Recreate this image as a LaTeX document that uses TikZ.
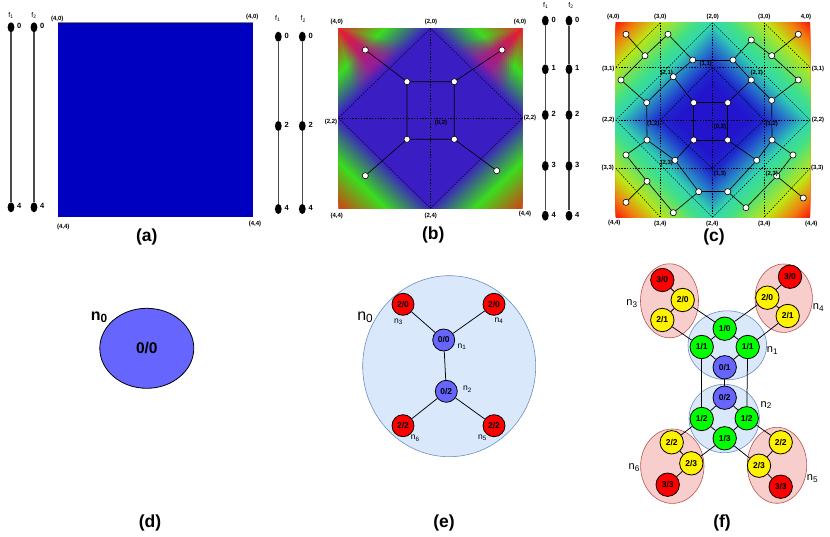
\documentclass[tikz,border=0pt]{standalone}
\usepackage{graphicx}
\usepackage{fontspec}
\setmainfont{Liberation Sans}
\usetikzlibrary{shapes.geometric}
\definecolor{regblue}{HTML}{DAE8FC}
\definecolor{regblueline}{HTML}{6C8EBF}
\definecolor{regred}{HTML}{F8CECC}
\definecolor{regredline}{HTML}{B85450}
\definecolor{nblue}{HTML}{6666FF}
\definecolor{barcol}{HTML}{4A4A4A}
\tikzset{
  coordlabel/.style={font=\fontsize{6}{7}\selectfont\bfseries,inner sep=0pt},
  caption/.style={font=\fontsize{17.5}{20}\selectfont\bfseries,inner sep=0pt},
  barend/.style={ellipse,fill=black,draw=none,minimum width=6.8pt,minimum height=10pt,inner sep=0pt},
  barline/.style={draw=barcol,line width=1.1pt},
  barnum/.style={font=\fontsize{7.5}{8}\selectfont\bfseries,inner sep=0pt},
  barname/.style={font=\fontsize{7}{8}\selectfont,inner sep=0pt},
  cpt/.style={circle,fill=white,draw=black,line width=.6pt,minimum size=6.2pt,inner sep=0pt},
  cedge/.style={draw=black,line width=.65pt},
  gridline/.style={draw=black,line width=.55pt,dash pattern=on 1.4pt off 1.4pt},
  gn/.style={circle,draw=black,line width=.8pt,minimum size=#1,inner sep=0pt,font=\fontsize{8.5}{10}\selectfont\bfseries},
  gn/.default=22pt,
  gedge/.style={draw=black,line width=.75pt},
  nsmall/.style={font=\fontsize{8.5}{10}\selectfont,inner sep=0pt},
  nmid/.style={font=\fontsize{11}{12}\selectfont,inner sep=0pt},
  nbig/.style={font=\fontsize{16}{18}\selectfont,inner sep=0pt},
  nbigb/.style={font=\fontsize{16}{18}\selectfont\bfseries,inner sep=0pt},
  regb/.style={ellipse,fill=regblue,draw=regblueline,line width=.6pt,inner sep=0pt},
  regr/.style={ellipse,fill=regred,draw=regredline,line width=.6pt,inner sep=0pt},
}
\newcounter{lb}
\newcommand\clab[3]{\stepcounter{lb}\node[coordlabel] (lab\thelb) at (#1,#2) {#3};}
\newcommand\nlab[4]{\stepcounter{lb}\node[#1] (nl\thelb) at (#2,#3) {n\raisebox{-.28ex}{\scalebox{.74}{#4}}};}
% name, x, list y/label
\newcommand\fbar[3]{%
  \foreach \yy/\ll [count=\k,remember=\k as \p (initially 0)] in {#3}{
    \node[barend] (#1\k) at (#2,\yy) {};
    \node[barnum] (#1t\k) at (#2+8.3,\yy-1) {\ll};
    \ifnum\k>1 \draw[barline] (#1\p) -- (#1\k); \fi
  }}
% cx cy rx ry steps stops (outer to inner)
\newcommand\dfield[6]{%
  \foreach \ra/\ga/\ba/\ta/\rb/\gb/\bb/\tb in {#6}{
    \foreach \i in {1,...,#5}{
      \pgfmathsetmacro\ff{(\i-1)/#5}
      \pgfmathsetmacro\tt{2*(\ta+(\tb-\ta)*\ff)}
      \pgfmathsetmacro\R{(\ra+(\rb-\ra)*\ff)/255}
      \pgfmathsetmacro\G{(\ga+(\gb-\ga)*\ff)/255}
      \pgfmathsetmacro\B{(\ba+(\bb-\ba)*\ff)/255}
      \definecolor{cc}{rgb}{\R,\G,\B}
      \fill[cc] (#1-\tt*#3,#2) -- (#1,#2-\tt*#4) -- (#1+\tt*#3,#2) -- (#1,#2+\tt*#4) -- cycle;
    }}}
\begin{document}
\begin{tikzpicture}[x=1pt,y=-1pt]
\useasboundingbox (0,0) rectangle (830,537);

%% ---------- (a)
\fill[fill=black!50] (58.3,22.2) rectangle (252.7,217.2);
\fill[fill={rgb,255:red,0;green,0;blue,192}] (58.3,23) rectangle (252.7,216.7);
\fbar{al}{11}{27.3/0,207.3/4}
\fbar{bl}{34}{27.3/0,207.3/4}
\node[barname] (f1a) at (11,15.7) {f\textsubscript{1}};
\node[barname] (f2a) at (34,15.7) {f\textsubscript{2}};
\clab{57.3}{18.7}{(4,0)}
\clab{252.3}{16.7}{(4,0)}
\clab{63.3}{226.7}{(4,4)}
\clab{255}{224.3}{(4,4)}
\node[caption] (capa) at (146.7,237) {(a)};

\fbar{cl}{278.3}{36.7/0,126/2,209/4}
\fbar{dl}{302.3}{36.7/0,126/2,209/4}
\node[barname] (f1b) at (277.7,18) {f\textsubscript{1}};
\node[barname] (f2b) at (303.3,19) {f\textsubscript{2}};

%% ---------- (b)
\fill[fill={rgb,255:red,240;green,190;blue,175}] (337.8,28) rectangle (523.2,208.6);
\begin{scope}
\clip (338.3,28.3) rectangle (522.7,208.3);
\dfield{430.5}{118.3}{92.2}{90}{14}{205/70/20/1/60/220/30/.75,60/220/30/.75/58/30/195/.5,58/30/195/.5/58/30/195/.49}
\foreach \i in {0,...,45}{\foreach \j in {0,...,44}{
  \pgfmathsetmacro\ca{(\i+.5)/46}
  \pgfmathsetmacro\cb{(\j+.5)/45}
  \pgfmathsetmacro\ct{\ca+\cb}
  \ifdim\ct pt<1pt
    \pgfmathsetmacro\ws{max(0,min(1,(abs(\ca-\cb)/\ct-.12)/.5))}
    \pgfmathsetmacro\ea{min(1,\ct/.52)}
    \pgfmathsetmacro\eb{max(0,(\ct-.52)/.48)}
    \pgfmathsetmacro\da{min(1,\ct/.8)}
    \pgfmathsetmacro\db{max(0,(\ct-.8)/.2)}
    \pgfmathsetmacro\R{((1-\ws)*(235-85*\da-92*\db)+\ws*(235-175*\ea-2*\eb))/255}
    \pgfmathsetmacro\G{((1-\ws)*(30)+\ws*(30+190*\ea-190*\eb))/255}
    \pgfmathsetmacro\B{((1-\ws)*(40+110*\da+45*\db)+\ws*(40-10*\ea+165*\eb))/255}
    \definecolor{cc}{rgb}{\R,\G,\B}
    \pgfmathsetmacro\xa{338.3+\i*2}
    \pgfmathsetmacro\xb{522.7-\i*2}
    \pgfmathsetmacro\yc{28.3+\j*2}
    \fill[cc] (\xa,\yc) rectangle ++(2.3,2.3);
    \fill[cc] (\xb,\yc) rectangle ++(-2.3,2.3);
  \fi
}}
\end{scope}
\coordinate (bt) at (430.5,28.3);
\coordinate (bb) at (430.5,208.3);
\coordinate (bl) at (338.3,118);
\coordinate (br) at (522.7,118);
\draw[gridline] (bt) -- (bb);
\draw[gridline] (bl) -- (br);
\draw[gridline] (bt) -- (bl) -- (bb) -- (br) -- cycle;
\node[cpt] (b1) at (365.3,50) {};
\node[cpt] (b2) at (502,50) {};
\node[cpt] (b3) at (407,81.7) {};
\node[cpt] (b4) at (454.3,81.7) {};
\node[cpt] (b5) at (407,139.3) {};
\node[cpt] (b6) at (454.3,139.3) {};
\node[cpt] (b7) at (365.3,175.7) {};
\node[cpt] (b8) at (496.7,170.7) {};
\draw[cedge] (b1)--(b3) (b2)--(b4) (b3)--(b4) (b3)--(b5) (b4)--(b6) (b5)--(b6) (b5)--(b7) (b6)--(b8);
\clab{336.7}{22}{(4,0)}
\clab{431}{22}{(2,0)}
\clab{520}{22}{(4,0)}
\clab{331}{121.7}{(2,2)}
\clab{530}{117.7}{(2,2)}
\clab{441}{122.7}{(0,2)}
\clab{336.7}{216}{(4,4)}
\clab{430.7}{216}{(2,4)}
\clab{525}{213.7}{(4,4)}
\node[caption] (capb) at (433.3,235) {(b)};

\fbar{el}{545.3}{20.7/0,69.3/1,115/2,166/3,215.7/4}
\fbar{fl}{569}{20.7/0,69.3/1,115/2,166/3,215.7/4}
\node[barname] (f1c) at (545.7,5) {f\textsubscript{1}};
\node[barname] (f2c) at (571,5.7) {f\textsubscript{2}};

%% ---------- (c)
\fill[fill={rgb,255:red,250;green,200;blue,170}] (615.2,22.5) rectangle (810.2,217.5);
\begin{scope}
\clip (615.7,22.7) rectangle (810,217.3);
\dfield{712.8}{120}{97.2}{97.3}{10}{250/30/10/1/240/130/15/.9,240/130/15/.9/190/230/20/.78,190/230/20/.78/70/225/130/.6,70/225/130/.6/50/215/175/.5,50/215/175/.5/40/130/200/.4,40/130/200/.4/30/40/205/.28,30/40/205/.28/35/20/205/.18,35/20/205/.18/35/20/205/.17}
\end{scope}
\coordinate (ct) at (712.5,22.7);
\coordinate (cb) at (712.5,217.3);
\coordinate (cl) at (615.7,120);
\coordinate (cr) at (810,120);
\coordinate (ct1) at (660.3,22.7);
\coordinate (ct2) at (764,22.7);
\coordinate (cb1) at (660.3,217.3);
\coordinate (cb2) at (764,217.3);
\coordinate (cl1) at (615.7,67.3);
\coordinate (cl2) at (615.7,168.3);
\coordinate (cr1) at (810,67.3);
\coordinate (cr2) at (810,168.3);
\coordinate (ci1) at (712.5,67.3);
\coordinate (ci2) at (712.5,168.3);
\coordinate (ci3) at (660.3,120);
\coordinate (ci4) at (764,120);
\draw[gridline] (ct)--(cb);
\draw[gridline] (cl)--(cr);
\draw[gridline] (ct1)--(cb1);
\draw[gridline] (ct2)--(cb2);
\draw[gridline] (cl1)--(cr1);
\draw[gridline] (cl2)--(cr2);
\draw[gridline] (ct)--(cl)--(cb)--(cr)--cycle;
\draw[gridline] (ci1)--(ci3)--(ci2)--(ci4)--cycle;
\draw[gridline] (ct1)--(cl1);
\draw[gridline] (ct2)--(cr1);
\draw[gridline] (cl2)--(cb1);
\draw[gridline] (cr2)--(cb2);
\foreach \nm/\xx/\yy in {A/626/34.3,B/645/55.7,C/668/34.3,D/621/80,E/646.7/102.7,F/673.3/76.7,G/692.7/60,H/693.7/102.7,I/727.7/102.7,J/733/60,K/751.3/40,L/771.7/55.7,M/798.3/34.3,N/798.3/80,O/751.3/80,P/771.7/100.3,
  a/647/140,b/626/155,c/647/181.3,d/626/202.3,e/673.3/212.7,f/675/160.3,g/693.7/140,h/727.7/140,i/756.7/160.3,j/698.7/191.7,k/727.7/191.7,l/746/207.7,m/776.7/176,n/803.3/198,o/772/140,p/793/155}
  {\node[cpt] (q\nm) at (\xx,\yy) {};}
\foreach \u/\v in {A/B,B/C,B/D,D/E,E/F,F/G,C/G,F/H,H/I,G/J,J/K,J/O,I/O,K/L,L/M,L/N,N/P,O/P,E/a,H/g,I/h,P/o,
  a/b,a/f,b/c,c/d,c/e,e/j,f/j,f/g,g/h,h/i,j/k,k/i,k/l,l/m,m/n,m/p,p/o,i/o}
  {\draw[cedge] (q\u)--(q\v);}
\clab{613.3}{16.7}{(4,0)}
\clab{660.3}{16.7}{(3,0)}
\clab{712.7}{16.7}{(2,0)}
\clab{764.3}{16.7}{(3,0)}
\clab{806}{16.7}{4,0)}
\clab{608.3}{69.3}{(3,1)}
\clab{818}{69.3}{(3,1)}
\clab{705.7}{64.3}{(1,1)}
\clab{666.7}{73.3}{(2,1)}
\clab{756.7}{72.7}{(2,1)}
\clab{608.3}{120}{(2,2)}
\clab{818}{120}{(2,2)}
\clab{653.3}{124.3}{(1,2)}
\clab{720}{126.7}{(0,2)}
\clab{771.7}{124}{(1,2)}
\clab{666.7}{163.3}{(2,3)}
\clab{607.7}{168.3}{(3,3)}
\clab{817.3}{168.3}{(3,3)}
\clab{720}{174}{(1,3)}
\clab{771.7}{174}{(2,3)}
\clab{614.3}{223.3}{(4,4)}
\clab{660.3}{224}{(3,4)}
\clab{712.3}{224}{(2,4)}
\clab{764.3}{224}{(3,4)}
\clab{811.3}{224}{(4,4)}
\node[caption] (capc) at (714,237) {(c)};

%% ---------- (d)
\node[ellipse,fill=nblue,draw=black,line width=.8pt,minimum width=94pt,minimum height=80pt,inner sep=0pt,font=\fontsize{15.5}{17}\selectfont\bfseries] (dn) at (146.8,348.3) {0/0};
\nlab{nbigb}{99}{317}{0}
\node[caption] (capd) at (150,523) {(d)};

%% ---------- (e)
\node[regb,minimum width=173pt,minimum height=181pt] (en0) at (449.2,366.2) {};
\node[gn,fill=red] (e3) at (403,304.3) {2/0};
\node[gn,fill=red] (e4) at (494,304.3) {2/0};
\node[gn,fill=nblue] (e1) at (443.7,340) {0/0};
\node[gn,fill=nblue] (e2) at (446.3,391.3) {0/2};
\node[gn,fill=red] (e6) at (403,425.7) {2/2};
\node[gn,fill=red] (e5) at (494,425.7) {2/2};
\draw[gedge] (e3)--(e1);
\draw[gedge] (e4)--(e1);
\draw[gedge] (e1)--(e2);
\draw[gedge] (e2)--(e6);
\draw[gedge] (e2)--(e5);
\nlab{nbig}{365}{317}{0}
\nlab{nsmall}{398.3}{321.7}{3}
\nlab{nsmall}{498.7}{321}{4}
\nlab{nsmall}{461.7}{346.7}{1}
\nlab{nsmall}{467.3}{389.3}{2}
\nlab{nsmall}{415}{438.3}{6}
\nlab{nsmall}{482.3}{437.7}{5}
\node[caption] (cape) at (444,523) {(e)};

%% ---------- (f)
\node[regr,minimum width=58pt,minimum height=74pt] (fn3) at (669.5,300.8) {};
\node[regr,minimum width=57.4pt,minimum height=68.4pt] (fn4) at (783.7,298.2) {};
\node[regr,minimum width=63.4pt,minimum height=74.4pt] (fn6) at (672.3,466.2) {};
\node[regr,minimum width=59.4pt,minimum height=76pt] (fn5) at (777,465.3) {};
\node[regb,minimum width=78.6pt,minimum height=69pt] (fn1) at (727.3,345.3) {};
\node[regb,minimum width=70.4pt,minimum height=68.4pt] (fn2) at (724.2,418.5) {};
\foreach \nm/\xx/\yy/\col/\tx in {
  a/662.3/280/red/3\slash 0,b/682.7/300/yellow/2\slash 0,c/662.3/320/yellow/2\slash 1,
  d/790/276.7/red/3\slash 0,e/767.3/297.7/yellow/2\slash 0,f/787.7/316/yellow/2\slash 1,
  g/724.7/328.7/green/1\slash 0,h/701.7/347/green/1\slash 1,i/747.7/347/green/1\slash 1,j/724.7/367.3/nblue/0\slash 1,
  k/724.7/397.7/nblue/0\slash 2,l/701.7/419/green/1\slash 2,m/746.7/418.3/green/1\slash 2,n/724.7/438.3/green/1\slash 3,
  o/671.7/442.3/yellow/2\slash 2,p/691.3/463.3/yellow/2\slash 3,q/667.7/484.7/red/3\slash 3,
  r/780.7/442.3/yellow/2\slash 2,s/759/465.7/yellow/2\slash 3,t/780.7/486.7/red/3\slash 3}
  {\node[gn=23.4pt,fill=\col] (r\nm) at (\xx,\yy) {\tx};}
\foreach \u/\v in {a/b,b/c,d/e,e/f,b/g,e/g,c/h,f/i,g/h,g/i,h/j,i/j,h/l,i/m,j/k,k/l,k/m,l/n,m/n,l/o,m/r,n/p,n/s,o/p,p/q,r/s,s/t}
  {\draw[gedge] (r\u)--(r\v);}
\nlab{nmid}{631.7}{303.7}{3}
\nlab{nmid}{818.3}{307.3}{4}
\nlab{nmid}{772.3}{350.3}{1}
\nlab{nmid}{766}{405}{2}
\nlab{nmid}{634}{467.7}{6}
\nlab{nmid}{812.3}{478.3}{5}
\node[caption] (capf) at (722,523) {(f)};
\end{tikzpicture}
\end{document}
